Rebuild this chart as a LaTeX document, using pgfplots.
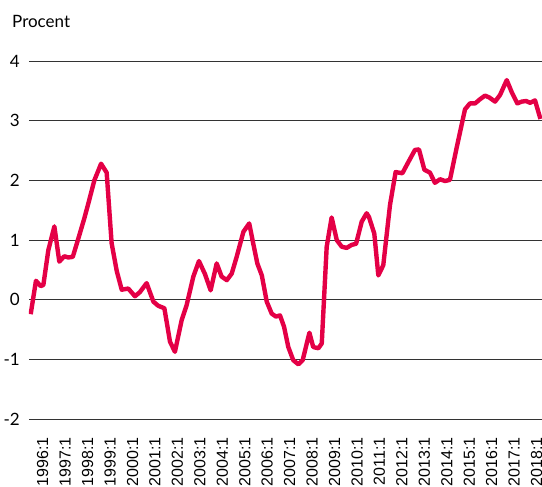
\documentclass[border=0pt]{standalone}
\usepackage{pgfplots}
\pgfplotsset{compat=1.18}
\usepackage{fontspec}
\setmainfont{Liberation Sans}
\newfontfamily\yfont{Lato}
\definecolor{rbred}{RGB}{228,0,70}
\begin{document}
\begin{tikzpicture}[x=1pt,y=1pt]
\path[use as bounding box] (-29,-67.7) rectangle (513,419.3);
\begin{axis}[
  name=ax,
  at={(0,0)}, anchor=south west,
  scale only axis, width=513pt, height=358.3pt,
  xmin=1995.39, xmax=2018.24, ymin=-2, ymax=4,
  ytick={-2,-1,0,1,2,3,4},
  yticklabels={-2,-1,0,1,2,3,4},
  xtick={1996,1997,1998,1999,2000,2001,2002,2003,2004,2005,2006,2007,2008,2009,2010,2011,2012,2013,2014,2015,2016,2017,2018},
  xticklabels={1996:1,1997:1,1998:1,1999:1,2000:1,2001:1,2002:1,2003:1,2004:1,2005:1,2006:1,2007:1,2008:1,2009:1,2010:1,2011:1,2012:1,2013:1,2014:1,2015:1,2016:1,2017:1,2018:1},
  axis line style={draw=none},
  major tick length=0pt,
  ymajorgrids, grid style={black!80, line width=0.8pt},
  xticklabel style={rotate=90, anchor=east, font=\fontsize{16}{16}\selectfont, inner sep=0pt},
  xticklabel shift=18pt,
  yticklabel style={font=\yfont\fontsize{17}{17}\selectfont, inner sep=0pt},
  yticklabel shift=9pt,
]
\addplot[rbred, line width=4.4pt, line join=round, line cap=butt] coordinates {
(1995.465,-0.24) (1995.70,0.32) (1995.91,0.23) (1996.03,0.25) (1996.25,0.83)
(1996.52,1.23) (1996.74,0.64) (1996.96,0.73) (1997.14,0.71) (1997.34,0.72)
(1997.59,1.03) (1997.85,1.36) (1998.03,1.61) (1998.30,2.00) (1998.60,2.28)
(1998.85,2.13) (1999.07,0.95) (1999.30,0.48) (1999.52,0.17) (1999.81,0.19)
(2000.11,0.06) (2000.33,0.13) (2000.63,0.28) (2000.93,-0.03) (2001.15,-0.10)
(2001.42,-0.14) (2001.67,-0.70) (2001.89,-0.87) (2002.19,-0.34) (2002.41,-0.09)
(2002.71,0.39) (2002.96,0.65) (2003.23,0.43) (2003.48,0.16) (2003.75,0.61)
(2003.97,0.39) (2004.20,0.33) (2004.42,0.44) (2004.64,0.72) (2004.94,1.14)
(2005.20,1.28) (2005.38,0.94) (2005.56,0.61) (2005.76,0.41) (2005.98,-0.03)
(2006.20,-0.23) (2006.39,-0.28) (2006.57,-0.26) (2006.75,-0.45) (2006.94,-0.79)
(2007.16,-1.01) (2007.39,-1.08) (2007.58,-1.01) (2007.88,-0.55) (2008.05,-0.79)
(2008.28,-0.81) (2008.43,-0.73) (2008.65,0.89) (2008.87,1.38) (2009.10,1.00)
(2009.32,0.89) (2009.54,0.87) (2009.76,0.92) (2009.96,0.94) (2010.21,1.31)
(2010.43,1.45) (2010.53,1.39) (2010.77,1.11) (2010.95,0.41) (2011.17,0.58)
(2011.47,1.59) (2011.72,2.14) (2012.02,2.12) (2012.29,2.31) (2012.58,2.51)
(2012.76,2.52) (2013.00,2.18) (2013.25,2.13) (2013.47,1.96) (2013.70,2.02)
(2013.92,1.99) (2014.14,2.01) (2014.44,2.55) (2014.81,3.19) (2015.03,3.29)
(2015.26,3.29) (2015.48,3.36) (2015.70,3.42) (2015.89,3.39) (2016.15,3.32)
(2016.37,3.43) (2016.67,3.68) (2016.89,3.48) (2017.14,3.29) (2017.34,3.32)
(2017.53,3.33) (2017.71,3.30) (2017.93,3.34) (2018.17,3.03)
};
\end{axis}
\node[anchor=base west, inner sep=0pt, font=\yfont\fontsize{17}{17}\selectfont] at (-17,391.3) {Procent};
\end{tikzpicture}
\end{document}
